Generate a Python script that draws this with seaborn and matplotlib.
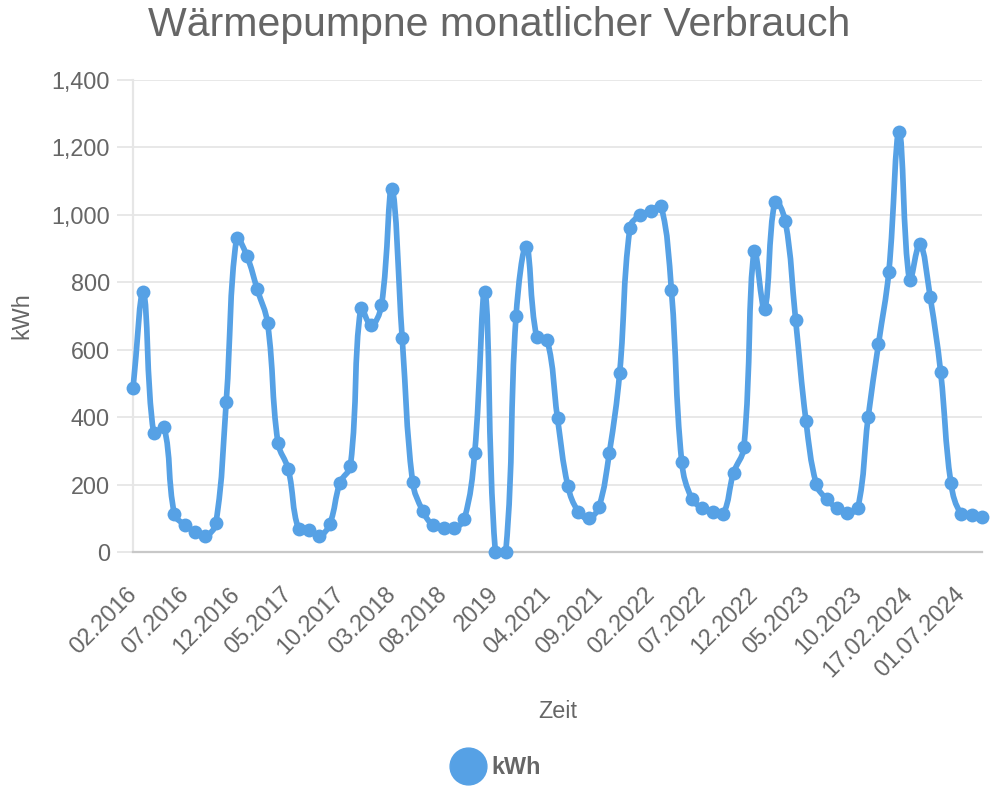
import numpy as np
import pandas as pd
import matplotlib
matplotlib.use("Agg")
import matplotlib.pyplot as plt
from matplotlib.path import Path
from matplotlib.patches import PathPatch
from matplotlib.lines import Line2D
import seaborn as sns

# ---------------- data ----------------
labels = [
    "02.2016", "03.2016", "04.2016", "05.2016", "06.2016", "07.2016", "08.2016", "09.2016", "10.2016", "11.2016",
    "12.2016", "01.2017", "02.2017", "03.2017", "04.2017", "05.2017", "06.2017", "07.2017", "08.2017", "09.2017",
    "10.2017", "11.2017", "12.2017", "01.2018", "02.2018", "03.2018", "04.2018", "05.2018", "06.2018", "07.2018",
    "08.2018", "09.2018", "10.2018", "11.2018", "12.2018", "2019", "2020", "01.2021", "02.2021", "03.2021",
    "04.2021", "05.2021", "06.2021", "07.2021", "08.2021", "09.2021", "10.2021", "11.2021", "12.2021", "01.2022",
    "02.2022", "03.2022", "04.2022", "05.2022", "06.2022", "07.2022", "08.2022", "09.2022", "10.2022", "11.2022",
    "12.2022", "01.2023", "02.2023", "03.2023", "04.2023", "05.2023", "06.2023", "07.2023", "08.2023", "09.2023",
    "10.2023", "11.2023", "12.2023", "01.2024", "01.02.2024", "17.02.2024", "01.03.2024", "01.04.2024", "01.05.2024", "01.06.2024",
    "01.07.2024", "01.08.2024", "01.09.2024",
]
kwh = [
    485, 770, 352, 370, 113, 80, 60, 48, 85, 444,
    930, 878, 779, 678, 324, 245, 67, 65, 48, 83,
    206, 256, 723, 672, 732, 1077, 634, 209, 121, 79,
    70, 70, 98, 293, 772, 0, 0, 701, 906, 637,
    629, 397, 196, 120, 100, 134, 293, 530, 962, 1000,
    1010, 1026, 777, 267, 156, 131, 120, 113, 235, 310,
    894, 721, 1039, 982, 688, 389, 201, 156, 130, 117,
    130, 399, 617, 831, 1245, 807, 914, 755, 535, 204,
    112, 110, 105,
]
y_ticks = [0, 200, 400, 600, 800, 1000, 1200, 1400]
title = "Wärmepumpne monatlicher Verbrauch"
x_title = "Zeit"
y_title = "kWh"
series_name = "kWh"

df = pd.DataFrame({"idx": np.arange(len(kwh)), "label": labels, "kWh": kwh})

# ---------------- style ----------------
sns.set_style("white")
plt.rcParams["font.family"] = ["Liberation Sans", "DejaVu Sans"]
TXT = "#666666"
BLUE = "#56a1e5"
GRID = "#e6e6e6"

fig = plt.figure(figsize=(9.98, 8), dpi=100)
W, H = 998, 800
ax = fig.add_axes([133 / W, 1 - 552 / H, (982 - 133) / W, (552 - 80) / H])
ax.set_xlim(0, len(kwh) - 1)
ax.set_ylim(0, 1400)

# ---------------- smooth line (Chart.js-like tension 0.4) ----------------
fig.canvas.draw()
pts = ax.transData.transform(np.column_stack([df["idx"].values, df["kWh"].values]).astype(float))
bb = ax.bbox
t = 0.4
n = len(pts)
prev_cp = np.zeros_like(pts)
next_cp = np.zeros_like(pts)
for i in range(n):
    p0 = pts[i - 1] if i > 0 else pts[i]
    p1 = pts[i]
    p2 = pts[i + 1] if i < n - 1 else pts[i]
    d01 = np.hypot(*(p1 - p0))
    d12 = np.hypot(*(p2 - p1))
    tot = d01 + d12
    s01 = d01 / tot if tot else 0
    s12 = d12 / tot if tot else 0
    prev_cp[i] = p1 - t * s01 * (p2 - p0)
    next_cp[i] = p1 + t * s12 * (p2 - p0)
for arr in (prev_cp, next_cp):
    arr[:, 0] = np.clip(arr[:, 0], bb.x0, bb.x1)
    arr[:, 1] = np.clip(arr[:, 1], bb.y0, bb.y1)
verts = [pts[0]]
codes = [Path.MOVETO]
for i in range(n - 1):
    verts += [next_cp[i], prev_cp[i + 1], pts[i + 1]]
    codes += [Path.CURVE4] * 3
inv = ax.transData.inverted()
verts = inv.transform(np.array(verts))
patch = PathPatch(Path(verts, codes), fill=False, edgecolor=BLUE, lw=4.1,
                  capstyle="round", joinstyle="round", clip_on=False, zorder=3)
ax.add_patch(patch)

sns.scatterplot(data=df, x="idx", y="kWh", ax=ax, color=BLUE, s=100,
                edgecolor=BLUE, linewidth=0, zorder=4, clip_on=False, legend=False)

# ---------------- axes styling ----------------
ax.set_yticks(y_ticks)
ax.set_yticklabels([f"{v:,}" for v in y_ticks])
ax.yaxis.grid(True, color=GRID, lw=1.3)
ax.xaxis.grid(False)
for s in ["top", "right"]:
    ax.spines[s].set_visible(False)
ax.spines["left"].set_color(GRID)
ax.spines["left"].set_linewidth(1.6)
ax.spines["bottom"].set_color("#c8c8c8")
ax.spines["bottom"].set_linewidth(1.6)
ax.set_axisbelow(True)

ax.tick_params(axis="y", length=11.5, width=1.3, color=GRID, pad=5,
               labelsize=16.8, labelcolor=TXT, left=True)
tick_pos = list(range(0, len(kwh), 5))
ax.set_xticks(tick_pos)
ax.set_xticklabels([labels[i] for i in tick_pos], rotation=45, ha="right",
                   va="center", rotation_mode="anchor")
ax.tick_params(axis="x", length=0, pad=28, labelsize=16.8, labelcolor=TXT)

ax.set_xlabel("")
ax.set_ylabel("")
fig.text(557.5 / W, 1 - 712 / H, x_title, ha="center", va="center", fontsize=16.8, color=TXT)
fig.text(22 / W, 1 - 316 / H, y_title, ha="center", va="center", rotation=90, fontsize=16.8, color=TXT)
fig.text(499 / W, 1 - 25 / H, title, ha="center", va="center", fontsize=29.5, color=TXT)

handle = Line2D([], [], marker="o", linestyle="none", markersize=26.5,
                markerfacecolor=BLUE, markeredgecolor=BLUE)
leg = fig.legend([handle], [series_name], loc="center", bbox_to_anchor=(497 / W, 1 - 768 / H),
                 frameon=False, prop={"size": 16.8, "weight": "bold"},
                 handlelength=1.2, handletextpad=0.4)
for txt in leg.get_texts():
    txt.set_color(TXT)

fig.savefig("out.png", dpi=100)
